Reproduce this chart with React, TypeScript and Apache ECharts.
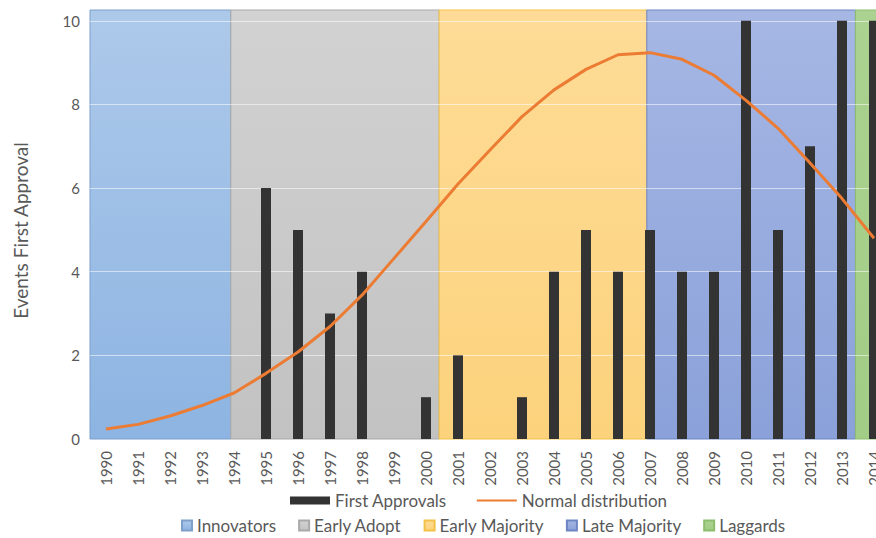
import React, { useEffect, useRef } from "react";
import * as echarts from "echarts";

const years = [
  "1990", "1991", "1992", "1993", "1994", "1995", "1996", "1997", "1998", "1999",
  "2000", "2001", "2002", "2003", "2004", "2005", "2006", "2007", "2008", "2009",
  "2010", "2011", "2012", "2013", "2014",
];
const firstApprovals = [0, 0, 0, 0, 0, 6, 5, 3, 4, 0, 1, 2, 0, 1, 4, 5, 4, 5, 4, 4, 10, 5, 7, 10, 10];
const normalDistribution = [
  0.24, 0.35, 0.55, 0.8, 1.1, 1.57, 2.08, 2.69, 3.44, 4.32, 5.2, 6.1, 6.91, 7.71, 8.35,
  8.84, 9.19, 9.24, 9.08, 8.7, 8.1, 7.43, 6.6, 5.75, 4.8,
];
const bandNames = ["Innovators", "Early Adopt", "Early Majority", "Late Majority", "Laggards"];
// band edges, in category-index units of the year axis
const bandStarts = [-0.5, 3.9, 10.41, 16.9, 23.42];
const bandEnds = [3.9, 10.41, 16.9, 23.42, 24.5];
const yTicks = [0, 2, 4, 6, 8, 10];

const bandTop = ["#adc9ea", "#d2d2d2", "#fedc97", "#a6b7e4", "#abd290"];
const bandBottom = ["#8db4e2", "#c2c2c2", "#fcd27c", "#8aa1d9", "#a2cd86"];
const bandBorder = ["#7d9fca", "#a9a9a9", "#f2c146", "#6f86c4", "#8dbd6e"];

const TEXT = "#595959";
const FONT = "Lato";

export default function App() {
  const ref = useRef<HTMLDivElement>(null);
  useEffect(() => {
    if (!ref.current) return;
    const chart = echarts.init(ref.current, undefined, { renderer: "svg" });
    const yMax = 10.26;
    const grad = (i: number) =>
      new echarts.graphic.LinearGradient(0, 0, 0, 1, [
        { offset: 0, color: bandTop[i] },
        { offset: 1, color: bandBottom[i] },
      ]);
    const bandSeries = bandNames.map((name, i) => ({
      name,
      type: "custom",
      xAxisIndex: 1,
      yAxisIndex: 0,
      z: 1,
      silent: true,
      itemStyle: { color: grad(i), borderColor: bandBorder[i], borderWidth: 1 },
      data: [[bandStarts[i], bandEnds[i]]],
      encode: { x: [0, 1] },
      renderItem: (params: any, api: any) => {
        const a = api.coord([api.value(0), 0]);
        const b = api.coord([api.value(1), 0]);
        const cs = params.coordSys;
        return {
          type: "rect",
          shape: { x: a[0], y: cs.y, width: b[0] - a[0], height: cs.height },
          style: { fill: grad(i), stroke: bandBorder[i], lineWidth: 1 },
        };
      },
    }));
    chart.setOption({
      animation: false,
      textStyle: { fontFamily: FONT },
      grid: { left: 90, right: 0, top: 10, bottom: 99 },
      xAxis: [
        {
          type: "category",
          data: years,
          axisLine: { show: false },
          axisTick: { show: false },
          axisLabel: { rotate: 90, color: TEXT, fontSize: 15, margin: 12, fontFamily: FONT, interval: 0 },
        },
        { type: "value", min: -0.5, max: 24.5, show: false },
      ],
      yAxis: {
        type: "value",
        min: 0,
        max: yMax,
        interval: 2,
        z: 2,
        name: "Events First Approval",
        nameLocation: "middle",
        nameGap: 60,
        nameTextStyle: { color: TEXT, fontSize: 19, fontFamily: FONT, padding: [0, 0, 0, -12] },
        axisLine: { show: false },
        axisTick: { show: false },
        axisLabel: {
          color: TEXT,
          fontSize: 15,
          margin: 10,
          fontFamily: FONT,
          formatter: (v: number) => (yTicks.indexOf(v) >= 0 ? String(v) : ""),
        },
        splitLine: {
          lineStyle: {
            color: [
              "rgba(255,255,255,0)",
              "rgba(255,255,255,0.55)",
              "rgba(255,255,255,0.55)",
              "rgba(255,255,255,0.55)",
              "rgba(255,255,255,0.55)",
              "rgba(255,255,255,0.55)",
              "rgba(255,255,255,0)",
            ],
            width: 1,
          },
        },
      },
      legend: [
        {
          data: [
            { name: "First Approvals", icon: "rect" },
            { name: "Normal distribution", itemStyle: { opacity: 0 } },
          ],
          left: 285,
          top: 487,
          itemWidth: 40,
          itemHeight: 8,
          itemGap: 29,
          textStyle: { color: TEXT, fontSize: 17, fontFamily: FONT },
        },
        {
          data: bandNames,
          left: 176,
          top: 512,
          icon: "rect",
          itemWidth: 10,
          itemHeight: 10,
          itemGap: 22,
          textStyle: { color: TEXT, fontSize: 17, fontFamily: FONT },
        },
      ],
      series: [
        ...bandSeries,
        {
          name: "First Approvals",
          type: "bar",
          z: 3,
          barWidth: 10,
          itemStyle: { color: "#333333" },
          data: firstApprovals,
        },
        {
          name: "Normal distribution",
          type: "line",
          z: 4,
          symbol: "none",
          lineStyle: { color: "#ec7c33", width: 3 },
          itemStyle: { color: "#ec7c33" },
          data: normalDistribution,
        },
      ],
    });
    return () => chart.dispose();
  }, []);
  return (
    <div style={{ position: "absolute", left: 0, top: 0, width: 876, height: 538, overflow: "hidden" }}>
      <div ref={ref} style={{ width: 890, height: 538 }} />
    </div>
  );
}
